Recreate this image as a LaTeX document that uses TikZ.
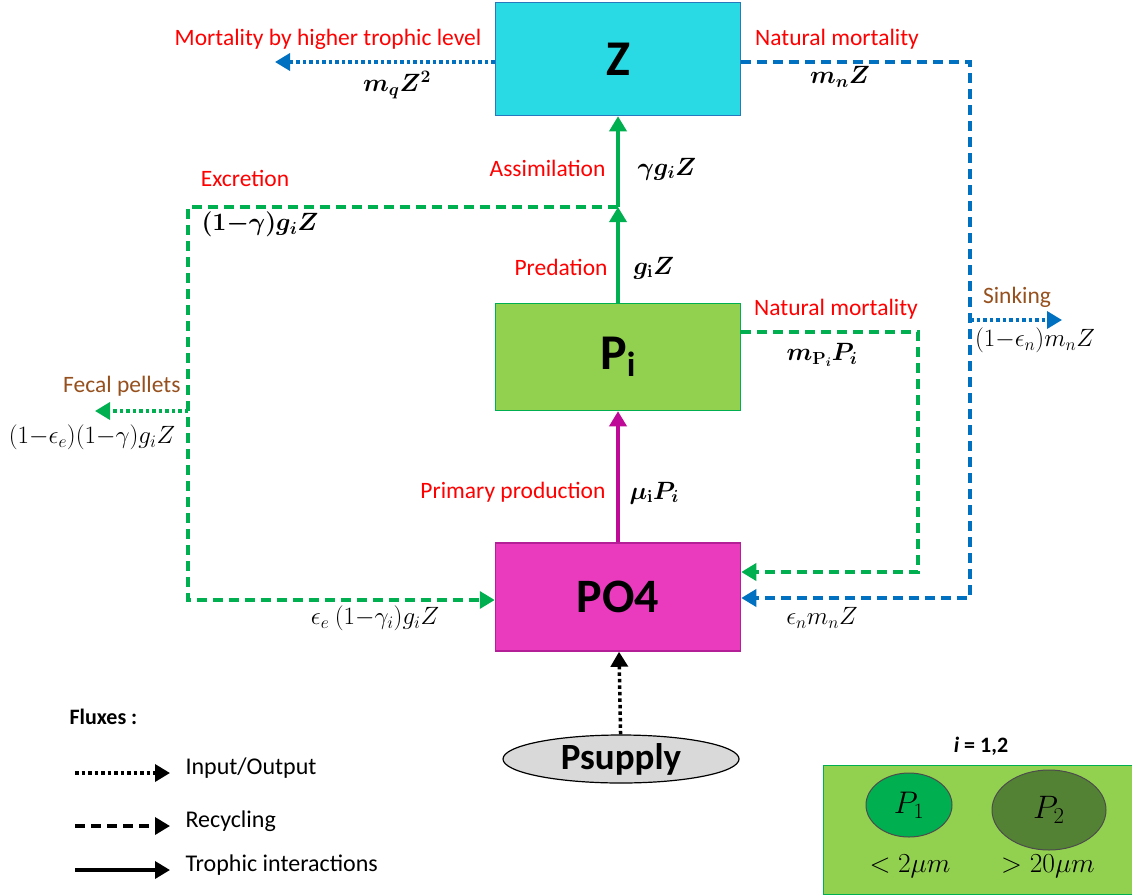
\RequirePackage{fix-cm}
\documentclass[tikz,border=0pt]{standalone}
\usepackage[no-math]{fontspec}
\setmainfont{Carlito}
\usepackage{amsmath,amssymb}
\usepackage{bm}
\usetikzlibrary{arrows.meta, shapes.geometric, positioning}

\definecolor{zcyan}{RGB}{41,217,227}
\definecolor{zedge}{RGB}{40,120,190}
\definecolor{plight}{RGB}{146,208,80}
\definecolor{pgreen}{RGB}{0,176,80}
\definecolor{pdark}{RGB}{84,130,53}
\definecolor{pomag}{RGB}{234,59,191}
\definecolor{poedge}{RGB}{180,30,150}
\definecolor{prodmag}{RGB}{190,10,150}
\definecolor{recblue}{RGB}{0,112,192}
\definecolor{brownlbl}{RGB}{150,80,30}
\definecolor{supgray}{RGB}{217,217,217}

\begin{document}
\begin{tikzpicture}[
            x=1pt, y=-1pt,
            >={Triangle[length=15pt, width=17pt]},
            box/.style={rectangle, draw, line width=1.5pt, minimum width=245pt, font=\bfseries\fontsize{50}{56}\selectfont},
            flux/.style={red, font=\fontsize{23.5}{28}\selectfont},
            brflux/.style={brownlbl, font=\fontsize{23.5}{28}\selectfont},
            rate/.style={font=\fontsize{25}{30}\selectfont},
            troph/.style={->, line width=3.5pt},
            recyc/.style={->, line width=3.5pt, dash pattern=on 10pt off 6pt},
            iodot/.style={->, line width=3.5pt, dash pattern=on 3.5pt off 3pt},
            legtxt/.style={anchor=west, font=\fontsize{24}{28}\selectfont}
        ]

        \useasboundingbox (0,0) rectangle (1132,894);

        % Compartments
        \node[box, fill=zcyan, draw=zedge, minimum height=113pt] (Z) at (618,59) {Z};
        \node[box, fill=plight, draw=pgreen, minimum height=107pt] (P) at (618,357) {P\textsubscript{i}};
        \node[box, fill=pomag, draw=poedge, minimum height=108pt, font=\bfseries\fontsize{48}{54}\selectfont] (PO4) at (618,597) {PO4};
        \node[ellipse, draw, line width=1.2pt, fill=supgray, minimum width=236pt, minimum height=48pt,
              font=\bfseries\fontsize{37}{42}\selectfont, inner sep=0pt] (S) at (621,759) {Psupply};

        % Corner points
        \coordinate (J) at (618,207);
        \coordinate (exTL) at (188,207);
        \coordinate (exBL) at (188,600);
        \coordinate (fecS) at (188,411);
        \coordinate (fecE) at (95,411);
        \coordinate (mq) at (275,62);
        \coordinate (nmZ1) at (970,62);
        \coordinate (nmZ2) at (970,598);
        \coordinate (nmP1) at (918,332);
        \coordinate (nmP2) at (918,572);
        \coordinate (sinkS) at (970,320);
        \coordinate (sinkE) at (1062,320);

        % Trophic interactions
        \draw[troph, prodmag] (PO4) -- (P);
        \draw[troph, pgreen] (P) -- (J);
        \draw[troph, pgreen] (J) -- (Z);

        % Recycling
        \draw[recyc, pgreen] (J) -- (exTL) -- (exBL) -- (PO4.west |- exBL);
        \draw[recyc, pgreen] (P.east |- nmP1) -- (nmP1) -- (nmP2) -- (PO4.east |- nmP2);
        \draw[recyc, recblue] (Z.east |- nmZ1) -- (nmZ1) -- (nmZ2) -- (PO4.east |- nmZ2);

        % Input / output
        \draw[iodot, pgreen] (fecS) -- (fecE);
        \draw[iodot, recblue] (Z.west |- mq) -- (mq);
        \draw[iodot, recblue] (sinkS) -- (sinkE);
        \draw[iodot, black] (S) -- (PO4);

        % Flux names
        \node[flux] (mq-l) at (328,39) {Mortality by higher trophic level};
        \node[flux] (nmZ-l) at (837,39) {Natural mortality};
        \node[flux, anchor=east] (as-l) at (609,168) {Assimilation};
        \node[flux] (ex-l) at (245,178) {Excretion};
        \node[flux, anchor=east] (pr-l) at (611,267) {Predation};
        \node[flux] (nmP-l) at (836,309) {Natural mortality};
        \node[brflux] (sink-l) at (1017,297) {Sinking};
        \node[brflux, anchor=east] (fec-l) at (184,386) {Fecal pellets};
        \node[flux, anchor=east] (pp-l) at (609,492) {Primary production};

        % Flux rates
        \node[rate] (mq-r) at (397,85) {$\bm{m_q Z^2}$};
        \node[rate] (nmZ-r) at (840,77) {$\bm{m_n Z}$};
        \node[rate, anchor=west] (as-r) at (634,169) {$\bm{\gamma g_i Z}$};
        \node[rate] (ex-r) at (260,224) {$\bm{(1{-}\gamma) g_i Z}$};
        \node[rate, anchor=west] (pr-r) at (630,268) {$\bm{g_{\mathrm{i}} Z}$};
        \node[rate] (nmP-r) at (822,355) {$\bm{m_{\mathrm{P}_i} P_i}$};
        \node[rate] (sink-r) at (1035,340) {$(1{-}\epsilon_n) m_n Z$};
        \node[rate] (fec-r) at (92,437) {$(1{-}\epsilon_e)(1{-}\gamma) g_i Z$};
        \node[rate, anchor=west] (pp-r) at (626,493) {$\bm{\mu_{\mathrm{i}} P_i}$};
        \node[rate] (exb-r) at (375,618) {$\epsilon_e\ (1{-}\gamma_i) g_i Z$};
        \node[rate] (nmb-r) at (822,618) {$\epsilon_n m_n Z$};

        % Legend
        \node[anchor=west, font=\bfseries\fontsize{22}{26}\selectfont] (fluxes) at (66,717) {Fluxes :};
        \foreach \i/\y/\st/\txt in {1/773/iodot/{Input/Output}, 2/826/recyc/{Recycling}, 3/870/troph/{Trophic interactions}}
        {
            \coordinate (leg-\i-a) at (75,\y);
            \coordinate (leg-\i-b) at (170,\y);
            \draw[\st, black] (leg-\i-a) -- (leg-\i-b);
            \node[legtxt] (leg-\i-t) at (182,\y-5) {\txt};
        }

        % Size classes
        \node[rectangle, draw=pgreen, line width=1.5pt, fill=plight, minimum width=309pt, minimum height=129pt] (cls) at (978,830) {};
        \node[font=\bfseries\fontsize{22}{26}\selectfont] (cls-t) at (981,746) {\textit{i} = 1,2};
        \node[ellipse, draw=black!70, line width=1pt, fill=pgreen, minimum width=86pt, minimum height=64pt,
              font=\fontsize{25}{30}\selectfont, inner sep=0pt] (P1) at (909,805) {\scalebox{1.25}{$P_1$}};
        \node[ellipse, draw=black!70, line width=1pt, fill=pdark, minimum width=114pt, minimum height=80pt,
              font=\fontsize{25}{30}\selectfont, inner sep=0pt] (P2) at (1049,810) {\scalebox{1.3}{$P_2$}};
        \node[font=\fontsize{25}{30}\selectfont] (P1-s) at (910,866) {\scalebox{1.1}{$<2\mu m$}};
        \node[font=\fontsize{25}{30}\selectfont] (P2-s) at (1048,866) {\scalebox{1.1}{$>20\mu m$}};

    \end{tikzpicture}
\end{document}
